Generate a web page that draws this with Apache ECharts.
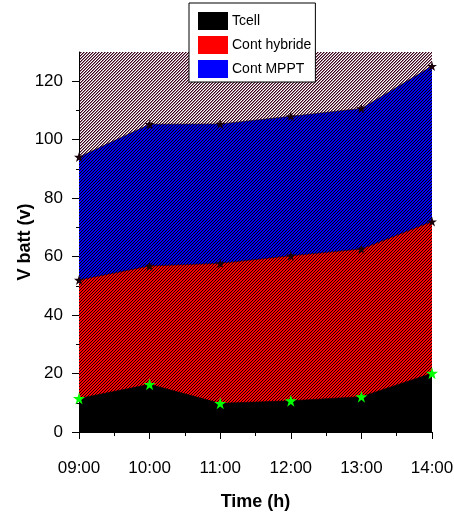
<!DOCTYPE html>
<html>
<head>
<meta charset="utf-8">
<script src="https://cdn.jsdelivr.net/npm/echarts@6/dist/echarts.min.js"></script>
<style>
html,body{margin:0;padding:0;background:#fff;}
#chart{width:454px;height:517px;}
</style>
</head>
<body>
<div id="chart"></div>
<script>
// ---- data ----
var hours = [9, 10, 11, 12, 13, 14];
var xTickLabels = ['09:00', '10:00', '11:00', '12:00', '13:00', '14:00'];
var tcell = [11.5, 16.3, 9.8, 10.7, 12.1, 20.1];
var contHybride = [52.0, 56.8, 57.7, 60.3, 62.6, 72.0];
var contMPPT = [94.1, 105.3, 105.4, 108.0, 110.7, 125.2];
var yTicks = [0, 20, 40, 60, 80, 100, 120];
var yMinorTicks = [10, 30, 50, 70, 90, 110];
var seriesNames = ['Tcell', 'Cont hybride', 'Cont MPPT'];

var FONT = "'Liberation Sans', Arial, sans-serif";

function mix(a, b, t) {
  var pa = [parseInt(a.substr(1, 2), 16), parseInt(a.substr(3, 2), 16), parseInt(a.substr(5, 2), 16)];
  var pb = [parseInt(b.substr(1, 2), 16), parseInt(b.substr(3, 2), 16), parseInt(b.substr(5, 2), 16)];
  return 'rgb(' + pa.map(function (v, i) { return Math.round(v * (1 - t) + pb[i] * t); }).join(',') + ')';
}

function hatch(bg, fg, period, secondWeight) {
  var c = document.createElement('canvas');
  c.width = period; c.height = period;
  var ctx = c.getContext('2d');
  ctx.fillStyle = bg;
  ctx.fillRect(0, 0, period, period);
  var half = mix(bg, fg, secondWeight);
  for (var x = 0; x < period; x++) {
    for (var y = 0; y < period; y++) {
      var k = (x + y) % period;
      if (k === 0) { ctx.fillStyle = fg; ctx.fillRect(x, y, 1, 1); }
      else if (k === 1 && secondWeight > 0) { ctx.fillStyle = half; ctx.fillRect(x, y, 1, 1); }
    }
  }
  return { image: c, repeat: 'repeat' };
}

var bgPattern = hatch('#ffffff', '#3c001c', 3, 0.5);
var bluePattern = hatch('#0000ff', '#000000', 3, 0.05);
var redPattern = hatch('#ff0000', '#1a0000', 3, 0);

var STAR = 'path://M50,0 L61,35 L98,35 L68,57 L79,91 L50,70 L21,91 L32,57 L2,35 L39,35 Z';

function pts(arr) {
  return hours.map(function (h, i) { return [h, arr[i]]; });
}

var chart = echarts.init(document.getElementById('chart'), null, { renderer: 'canvas' });

chart.setOption({
  animation: false,
  backgroundColor: '#ffffff',
  grid: {
    left: 79, right: 22, top: 52, bottom: 85,
    outerBoundsMode: 'none', containLabel: false,
    show: true, backgroundColor: bgPattern, borderWidth: 0
  },
  legend: {
    orient: 'vertical',
    left: 189, top: 3,
    padding: [9, 4, 4, 9],
    itemWidth: 30, itemHeight: 18, itemGap: 6,
    backgroundColor: '#ffffff',
    borderColor: '#000000', borderWidth: 1, borderRadius: 0,
    icon: 'rect',
    textStyle: { fontFamily: FONT, fontSize: 14, color: '#000', padding: [0, 0, 0, -1] },
    data: [
      { name: seriesNames[0], itemStyle: { color: '#000000' } },
      { name: seriesNames[1], itemStyle: { color: '#ff0000' } },
      { name: seriesNames[2], itemStyle: { color: '#0000ff' } }
    ]
  },
  xAxis: {
    type: 'value', min: 9, max: 14, interval: 1,
    name: 'Time (h)', nameLocation: 'middle', nameGap: 61, nameMoveOverlap: false,
    nameTextStyle: { fontFamily: FONT, fontSize: 18, fontWeight: 'bold', color: '#000' },
    axisLine: { show: true, lineStyle: { color: '#000', width: 1 } },
    axisTick: { show: true, length: 7, lineStyle: { color: '#000' } },
    minorTick: { show: true, splitNumber: 2, length: 4, lineStyle: { color: '#000' } },
    splitLine: { show: false },
    axisLabel: {
      margin: 28, fontFamily: FONT, fontSize: 17, color: '#000',
      formatter: function (v) { return xTickLabels[hours.indexOf(v)] || ''; }
    }
  },
  yAxis: [{
    type: 'value', min: 0, max: 130,
    name: 'V batt (v)', nameLocation: 'middle', nameGap: 45, nameMoveOverlap: false,
    nameTextStyle: { fontFamily: FONT, fontSize: 18, fontWeight: 'bold', color: '#000' },
    axisLine: { show: true, lineStyle: { color: '#000', width: 1 } },
    axisTick: { show: true, length: 7, customValues: yTicks, lineStyle: { color: '#000' } },
    splitLine: { show: false },
    axisLabel: {
      margin: 16, fontFamily: FONT, fontSize: 17, color: '#000',
      customValues: yTicks
    }
  }, {
    type: 'value', min: 0, max: 130, position: 'left', offset: 0,
    axisLine: { show: false },
    axisTick: { show: true, length: 3, customValues: yMinorTicks, lineStyle: { color: '#000' } },
    axisLabel: { show: false },
    splitLine: { show: false }
  }],
  series: [
    {
      name: seriesNames[2], type: 'line', data: pts(contMPPT),
      symbol: STAR, symbolSize: 10, showAllSymbol: true,
      itemStyle: { color: '#1a0008' },
      lineStyle: { width: 0.6, color: '#1a0008' },
      areaStyle: { color: bluePattern, opacity: 1 },
      z: 2
    },
    {
      name: seriesNames[1], type: 'line', data: pts(contHybride),
      symbol: STAR, symbolSize: 10,
      itemStyle: { color: '#1a0008' },
      lineStyle: { width: 0.6, color: '#1a0008' },
      areaStyle: { color: redPattern, opacity: 1 },
      z: 3
    },
    {
      name: seriesNames[0], type: 'line', data: pts(tcell),
      symbol: STAR, symbolSize: 12,
      itemStyle: { color: '#00ff00' },
      lineStyle: { width: 0.6, color: '#000' },
      areaStyle: { color: '#000000', opacity: 1 },
      z: 4
    }
  ]
});
</script>
</body>
</html>
